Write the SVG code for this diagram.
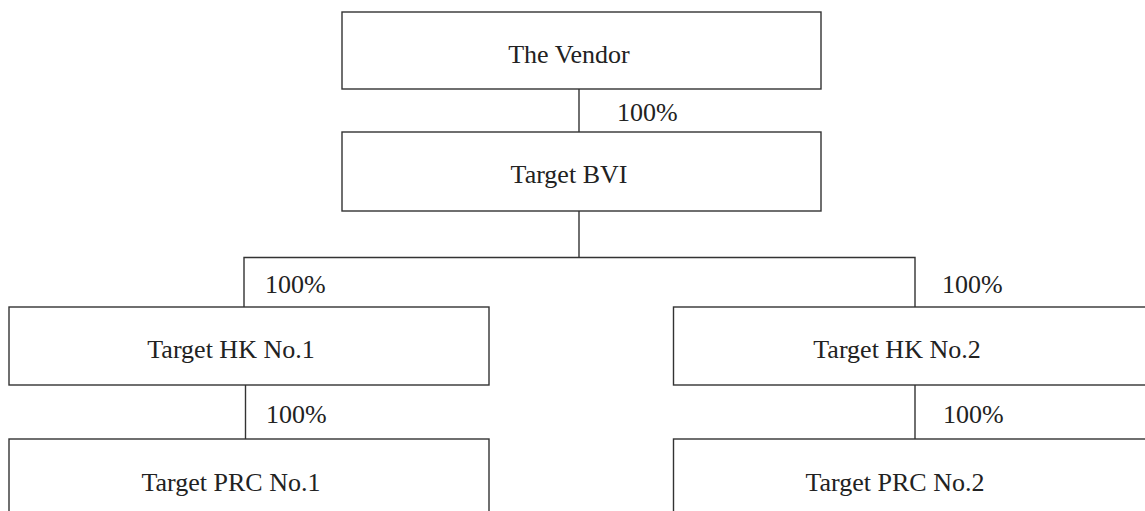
<svg xmlns="http://www.w3.org/2000/svg" width="1145" height="511" viewBox="0 0 1145 511">
<style>
.box{fill:#fff;stroke:#333;stroke-width:1.4}
.ln{stroke:#333;stroke-width:1.4;fill:none}
text{font-family:"Liberation Serif","Times New Roman",serif;font-size:26px;fill:#222}
.c{text-anchor:middle}
</style>
<rect width="1145" height="511" fill="#fff"/>
<g id="connectors">
<line class="ln" x1="579" y1="89" x2="579" y2="132"/>
<line class="ln" x1="579" y1="211" x2="579" y2="257.5"/>
<polyline class="ln" points="244,307 244,257.5 915,257.5 915,307"/>
<line class="ln" x1="245.5" y1="385" x2="245.5" y2="439"/>
<line class="ln" x1="915" y1="385" x2="915" y2="439"/>
<text x="617" y="121">100%</text>
<text x="265" y="293">100%</text>
<text x="942" y="293">100%</text>
<text x="266" y="423">100%</text>
<text x="943" y="423">100%</text>
</g>
<g id="vendor">
<rect class="box" x="342" y="12" width="479" height="77"/>
<text class="c" x="569" y="63">The Vendor</text>
</g>
<g id="bvi">
<rect class="box" x="342" y="132" width="479" height="79"/>
<text class="c" x="569" y="183">Target BVI</text>
</g>
<g id="hk1">
<rect class="box" x="9" y="307" width="480" height="78"/>
<text class="c" x="231" y="358">Target HK No.1</text>
</g>
<g id="hk2">
<rect class="box" x="673.5" y="307" width="480" height="78"/>
<text class="c" x="897" y="358">Target HK No.2</text>
</g>
<g id="prc1">
<rect class="box" x="9" y="439" width="480" height="80"/>
<text class="c" x="231" y="491">Target PRC No.1</text>
</g>
<g id="prc2">
<rect class="box" x="673.5" y="439" width="480" height="80"/>
<text class="c" x="895" y="491">Target PRC No.2</text>
</g>
</svg>
